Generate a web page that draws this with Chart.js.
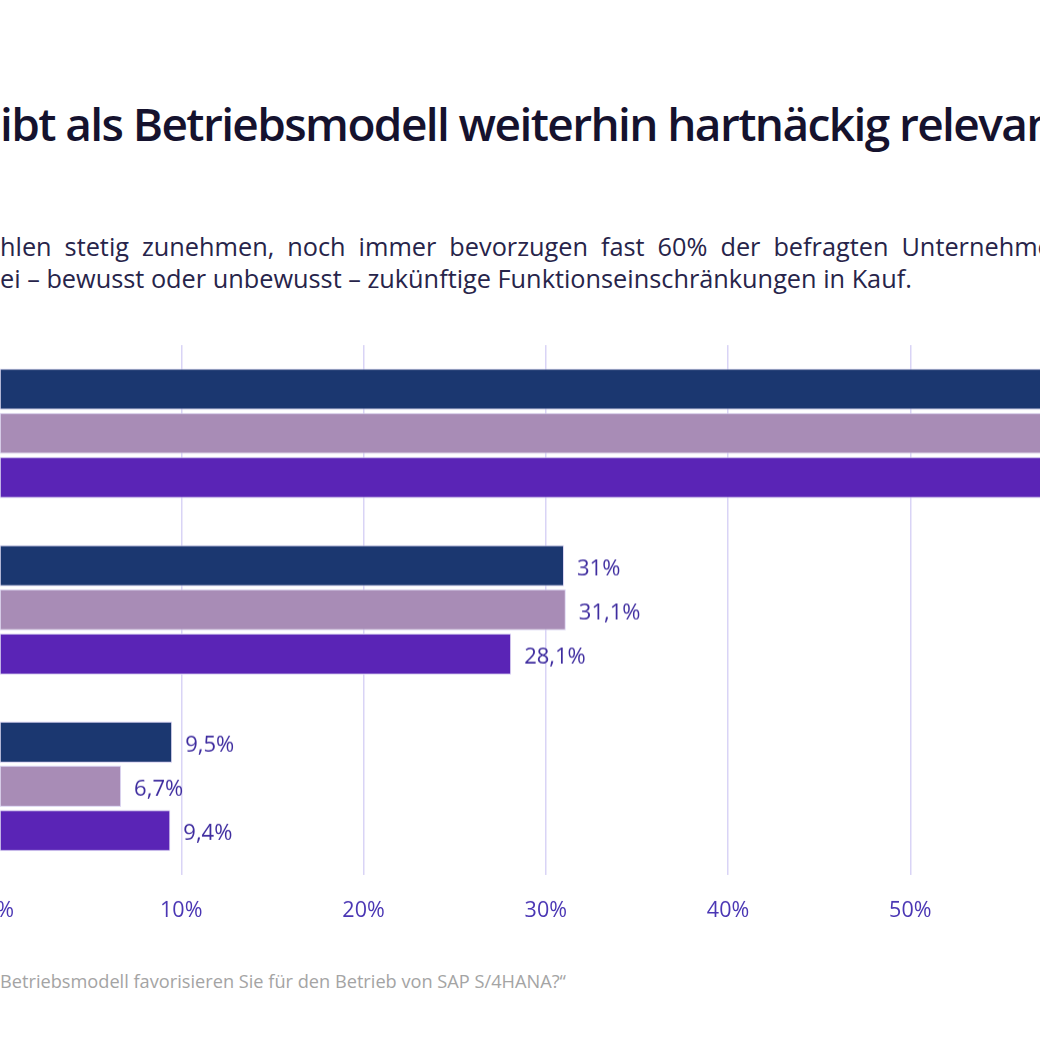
<!DOCTYPE html>
<html lang="de">
<head>
<meta charset="utf-8">
<script src="https://cdn.jsdelivr.net/npm/chart.js@4"></script>
<style>
  html, body { margin: 0; padding: 0; background: #fff; }
  body { width: 1040px; height: 1040px; overflow: hidden; position: relative; font-family: "Open Sans", sans-serif; }
  .line { position: absolute; left: 0; white-space: nowrap; }
  .pre { position: absolute; right: 100%; }
  #title { top: 92px; font-size: 46px; font-weight: 600; color: #15122e; letter-spacing: -1.6px; }
  #sub1 { top: 229px; font-size: 25.3px; color: #27244a; word-spacing: 6.4px; }
  #sub2 { top: 261px; font-size: 25.3px; color: #27244a; }
  #source { top: 969px; font-size: 18.2px; color: #a4a4a4; }
  #chartBox { position: absolute; left: -200px; top: 300px; width: 1519px; height: 645.5px; }
</style>
</head>
<body>
<div class="line" id="title"><span class="pre">On-Premise ble</span>ibt als Betriebsmodell weiterhin hartnäckig relevant</div>
<div class="line" id="sub1"><span class="pre">Obwohl Cloud-Lösungen in ihrer Anzahl und Bedeutung zwar za</span>hlen stetig zunehmen, noch immer bevorzugen fast 60% der befragten Unternehmen</div>
<div class="line" id="sub2"><span class="pre">On-Premise und nehmen dab</span>ei – bewusst oder unbewusst – zukünftige Funktionseinschränkungen in Kauf.</div>
<div class="line" id="source"><span class="pre">Frage: „Welches </span>Betriebsmodell favorisieren Sie für den Betrieb von SAP S/4HANA?“</div>
<div id="chartBox"><canvas id="chart"></canvas></div>
<script>
  // Data
  const categories = ["On-Premise", "Cloud", "Hybrid"];
  const seriesNames = ["2021", "2022", "2023"];
  const series1 = [59.5, 31, 9.5];
  const series2 = [62.2, 31.1, 6.7];
  const series3 = [62.5, 28.1, 9.4];
  const xTicks = [0, 10, 20, 30, 40, 50, 60, 70];

  const colors = ["#1b3770", "#a88cb6", "#5a24b6"];
  const fmt = (v) => String(v).replace(".", ",") + "%";

  // draw the value next to each bar
  const valueLabels = {
    id: "valueLabels",
    afterDatasetsDraw(chart) {
      const ctx = chart.ctx;
      ctx.save();
      ctx.font = '22px "Open Sans"';
      ctx.fillStyle = "#3e2c9f";
      ctx.textAlign = "left";
      ctx.textBaseline = "middle";
      chart.data.datasets.forEach((ds, i) => {
        chart.getDatasetMeta(i).data.forEach((bar, j) => {
          ctx.fillText(fmt(ds.data[j]), bar.x + 13, bar.y + 3);
        });
      });
      ctx.restore();
    },
  };

  const ctx = document.getElementById("chart").getContext("2d");
  const chart = new Chart(ctx, {
    type: "bar",
    data: {
      labels: categories,
      datasets: [series1, series2, series3].map((d, i) => ({
        label: seriesNames[i],
        data: d,
        backgroundColor: colors[i],
        borderColor: "#dcd6f3",
        borderWidth: 1,
        borderSkipped: false,
        categoryPercentage: 0.75,
        barPercentage: 0.93,
      })),
    },
    options: {
      indexAxis: "y",
      responsive: true,
      maintainAspectRatio: false,
      animation: false,
      layout: { padding: { left: 199, right: 27, top: 45, bottom: 0 } },
      plugins: {
        legend: { display: false },
        tooltip: { enabled: false },
      },
      scales: {
        x: {
          min: 0,
          max: 70,
          afterBuildTicks: (axis) => {
            axis.ticks = xTicks.map((v) => ({ value: v }));
          },
          grid: { color: "#d9d4f6", lineWidth: 1.5, drawTicks: false },
          border: { display: false },
          ticks: {
            color: "#4a36b4",
            font: { family: "Open Sans", size: 21.5 },
            padding: 23,
            callback: (v) => v + "%",
          },
        },
        y: {
          display: false,
        },
      },
    },
    plugins: [valueLabels],
  });
</script>
</body>
</html>
